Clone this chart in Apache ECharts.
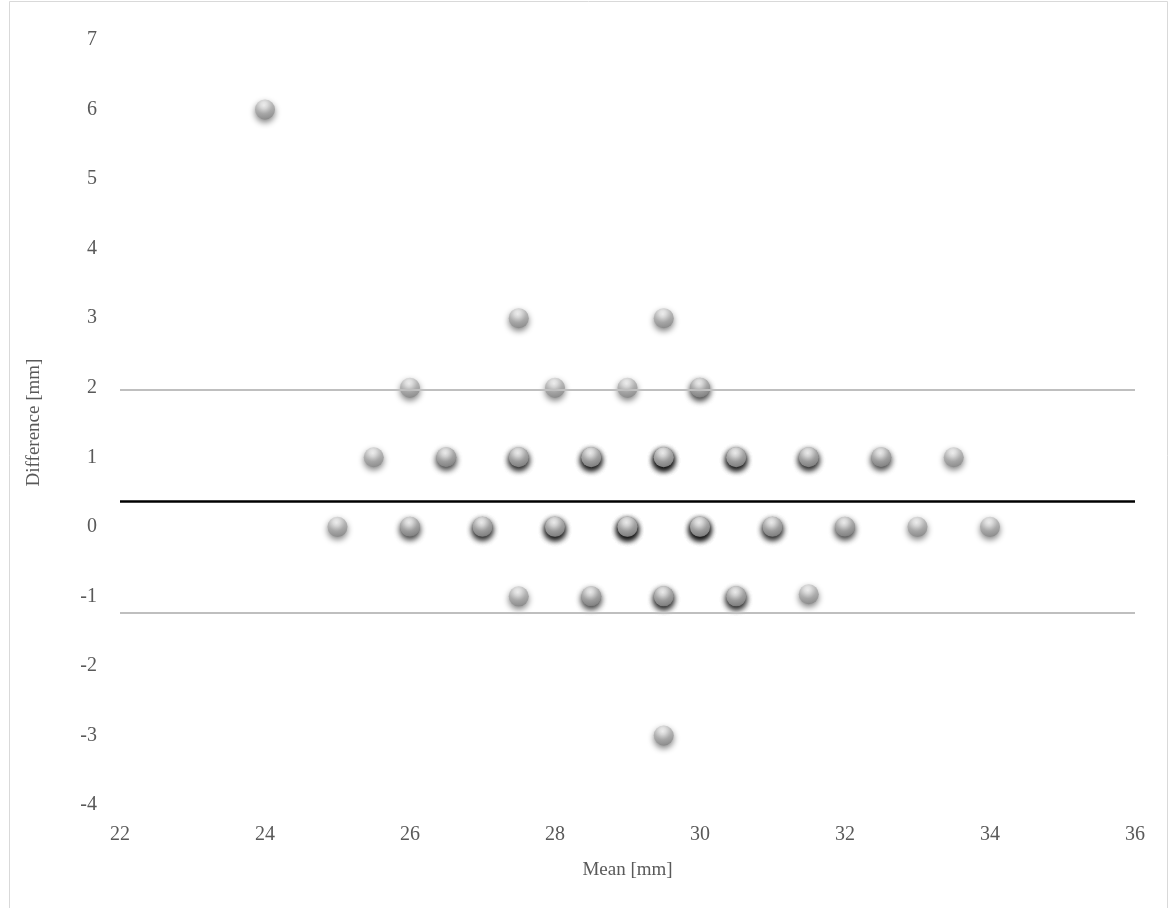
<!DOCTYPE html>
<html>
<head>
<meta charset="utf-8">
<style>
  html, body { margin: 0; padding: 0; background: #ffffff; }
  #chart { width: 1176px; height: 908px; }
</style>
<script src="https://cdn.jsdelivr.net/npm/echarts@6/dist/echarts.min.js"></script>
</head>
<body>
<div id="chart"></div>
<script>
// Bland–Altman plot: mean of two measurements vs. their difference (mm).
// Repeated pairs are listed more than once; their stacked shadows darken.
const meanValues = [
  // difference = 0
  25, 26, 26, 27, 27, 27, 28, 28, 28, 28, 29, 29, 29, 29, 29,
  30, 30, 30, 30, 30, 31, 31, 31, 32, 32, 33, 34,
  // difference = 1
  25.5, 26.5, 26.5, 27.5, 27.5, 27.5, 28.5, 28.5, 28.5, 28.5,
  29.5, 29.5, 29.5, 29.5, 29.5, 30.5, 30.5, 30.5, 30.5,
  31.5, 31.5, 31.5, 32.5, 32.5, 33.5,
  // difference = 2
  26, 28, 29, 30, 30,
  // difference = 3
  27.5, 29.5,
  // difference = 6
  24,
  // difference = -1
  27.5, 28.5, 28.5, 29.5, 29.5, 29.5, 30.5, 30.5, 30.5, 31.5,
  // difference = -3
  29.5
];
const diffValues = [
  0, 0, 0, 0, 0, 0, 0, 0, 0, 0, 0, 0, 0, 0, 0,
  0, 0, 0, 0, 0, 0, 0, 0, 0, 0, 0, 0,
  1, 1, 1, 1, 1, 1, 1, 1, 1, 1,
  1, 1, 1, 1, 1, 1, 1, 1, 1,
  1, 1, 1, 1, 1, 1,
  2, 2, 2, 2, 2,
  3, 3,
  6,
  -1, -1, -1, -1, -1, -1, -1, -1, -1, -0.97,
  -3
];
// Bias and 95% limits of agreement
const biasLine = 0.37;
const upperLimit = 1.97;
const lowerLimit = -1.24;

const xTicks = { min: 22, max: 36, step: 2 };
const yTicks = { min: -4, max: 7, step: 1 };

const points = meanValues.map((m, i) => [m, diffValues[i]]);

const labelFont = '"Liberation Serif", "DejaVu Serif", serif';
const textColor = '#595959';

const chart = echarts.init(document.getElementById('chart'), null, { renderer: 'canvas' });

chart.setOption({
  backgroundColor: '#ffffff',
  animation: false,
  graphic: [{
    type: 'rect',
    shape: { x: 9.5, y: 1.5, width: 1158, height: 930 },
    style: { fill: 'none', stroke: '#d9d9d9', lineWidth: 1 },
    silent: true,
    z: -10
  }],
  grid: { left: 120, right: 41, top: 40, bottom: 103, containLabel: false },
  xAxis: {
    type: 'value',
    min: xTicks.min, max: xTicks.max, interval: xTicks.step,
    name: 'Mean [mm]',
    nameLocation: 'middle',
    nameGap: 56,
    nameTextStyle: { fontFamily: labelFont, fontSize: 19, color: textColor },
    axisLine: { show: false },
    axisTick: { show: false },
    splitLine: { show: false },
    axisLabel: { fontFamily: labelFont, fontSize: 20, color: textColor, margin: 20 }
  },
  yAxis: {
    type: 'value',
    min: yTicks.min, max: yTicks.max, interval: yTicks.step,
    name: 'Difference [mm]',
    nameLocation: 'middle',
    nameGap: 76,
    nameTextStyle: { fontFamily: labelFont, fontSize: 19, color: textColor },
    axisLine: { show: false },
    axisTick: { show: false },
    splitLine: { show: false },
    axisLabel: { fontFamily: labelFont, fontSize: 20, color: textColor, margin: 23 }
  },
  series: [
    {
      type: 'scatter',
      data: [],
      silent: true,
      z: 1,
      markLine: {
        silent: true,
        symbol: ['none', 'none'],
        label: { show: false },
        data: [
          { yAxis: upperLimit, lineStyle: { color: '#bfbfbf', width: 2, type: 'solid' } },
          { yAxis: lowerLimit, lineStyle: { color: '#bfbfbf', width: 2, type: 'solid' } },
          { yAxis: biasLine, lineStyle: { color: '#000000', width: 2.5, type: 'solid' } }
        ]
      }
    },
    {
      type: 'scatter',
      data: points,
      symbol: 'circle',
      symbolSize: 20,
      z: 3,
      itemStyle: {
        color: {
          type: 'radial', x: 0.45, y: 0.3, r: 0.75,
          colorStops: [
            { offset: 0, color: '#ffffff' },
            { offset: 0.22, color: '#e8e8e8' },
            { offset: 0.55, color: '#b0b0b0' },
            { offset: 0.85, color: '#929292' },
            { offset: 1, color: '#747474' }
          ]
        },
        shadowBlur: 6,
        shadowOffsetX: 0,
        shadowOffsetY: 3,
        shadowColor: 'rgba(0, 0, 0, 0.62)'
      }
    }
  ]
});
</script>
</body>
</html>
